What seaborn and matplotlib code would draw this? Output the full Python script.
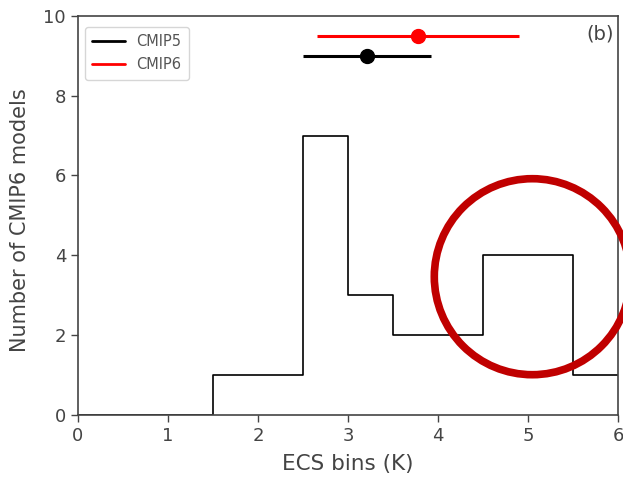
import matplotlib
matplotlib.use("Agg")
import matplotlib.pyplot as plt
from matplotlib.patches import Ellipse
from matplotlib.lines import Line2D
import seaborn as sns
import numpy as np

bin_edges = [0, 0.5, 1, 1.5, 2, 2.5, 3, 3.5, 4, 4.5, 5, 5.5, 6]
bin_centers = [0.25, 0.75, 1.25, 1.75, 2.25, 2.75, 3.25, 3.75, 4.25, 4.75, 5.25, 5.75]
counts = [0, 0, 0, 1, 1, 7, 3, 2, 2, 4, 4, 1]

series = ["CMIP5", "CMIP6"]
ecs_mean = [3.21, 3.78]
ecs_low = [2.5, 2.66]
ecs_high = [3.92, 4.9]
row_y = [9.0, 9.5]
colors = ["black", "red"]

sns.set_style("white")
plt.rcParams['font.family'] = ['DejaVu Sans']
gray = "#444444"

fig = plt.figure(figsize=(6.23, 4.78), dpi=100)
ax = fig.add_axes([0.125, 0.132, 0.867, 0.835])

sns.histplot(x=bin_centers, weights=counts, bins=bin_edges, element="step",
             fill=False, color="black", linewidth=1.2, ax=ax)

for s, m, lo, hi, y, c in zip(series, ecs_mean, ecs_low, ecs_high, row_y, colors):
    ax.plot([lo, hi], [y, y], color=c, linewidth=2.2, solid_capstyle="butt")
    ax.plot([m], [y], marker="o", color=c, markersize=10)

handles = [Line2D([0], [0], color=c, linewidth=2) for c in colors]
leg = ax.legend(handles, series, loc="upper left", fontsize=10.5, frameon=True,
                handlelength=2.2, borderpad=0.5, labelspacing=0.55,
                bbox_to_anchor=(0.0, 0.99))
for t in leg.get_texts():
    t.set_color("#555555")

ax.set_xlim(0, 6)
ax.set_ylim(0, 10)
ax.set_xticks([0, 1, 2, 3, 4, 5, 6])
ax.set_yticks([0, 2, 4, 6, 8, 10])
ax.set_xlabel("ECS bins (K)", fontsize=15.5, color=gray, labelpad=7)
ax.set_ylabel("Number of CMIP6 models", fontsize=15, color=gray, labelpad=10,
              y=0.489)
ax.tick_params(axis="both", which="both", direction="out", length=5, width=1,
               colors=gray, labelsize=13, bottom=True, left=True)
for sp in ax.spines.values():
    sp.set_color(gray)
    sp.set_linewidth(1.2)

ax.text(0.993, 0.955, "(b)", transform=ax.transAxes, ha="right", va="center",
        fontsize=14, color=gray)

circ = Ellipse((5.323, 2.013), 1.96, 1.96, transform=fig.dpi_scale_trans,
               fill=False, edgecolor="#c00000", linewidth=5.5, clip_on=False)
fig.add_artist(circ)

fig.savefig("out.png", dpi=100)
